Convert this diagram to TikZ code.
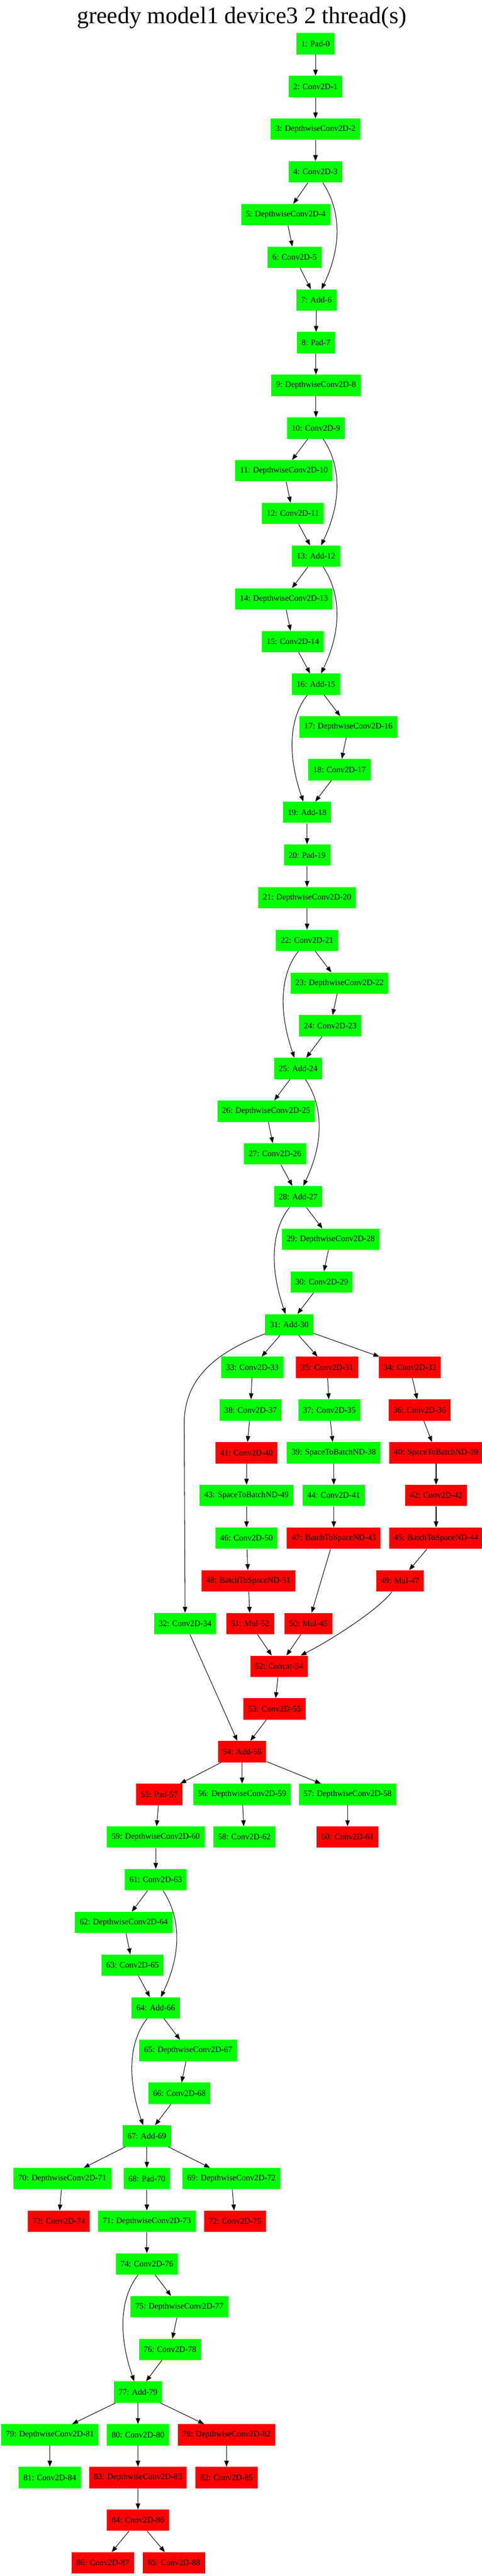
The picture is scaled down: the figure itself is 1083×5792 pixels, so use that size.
\documentclass[tikz,border=0pt]{standalone}
\usepackage{fontspec}
\setmainfont{Liberation Serif}
\usetikzlibrary{arrows.meta,calc}
\definecolor{gvgreen}{RGB}{0,255,0}
\definecolor{gvred}{RGB}{255,0,0}
\begin{document}
\begin{tikzpicture}[x=0.75pt, y=-0.75pt,
  op/.style={rectangle, minimum height=36pt, minimum width=54pt, inner xsep=8pt, inner ysep=0pt, font=\fontsize{14}{16}\selectfont, text=black},
  gn/.style={op, fill=gvgreen},
  rn/.style={op, fill=gvred},
  link/.style={draw=black, line width=0.9pt, -{Triangle[length=10pt,width=7.5pt]}}]
\useasboundingbox (0,0) rectangle (1083,5792);
\fill[white] (0,0) rectangle (1083,5792);
\node[font=\fontsize{40}{48}\selectfont, anchor=base] (title) at (543,53) {greedy model1 device3 2 thread(s)};
% nodes
\node[gn] (n1) at (709,98.5) {1: Pad-0};
\node[gn] (n2) at (709,194.5) {2: Conv2D-1};
\node[gn] (n3) at (709,290.5) {3: DepthwiseConv2D-2};
\node[gn] (n4) at (709,386.5) {4: Conv2D-3};
\node[gn] (n5) at (642,482.5) {5: DepthwiseConv2D-4};
\node[gn] (n6) at (662,578.5) {6: Conv2D-5};
\node[gn] (n7) at (711,674.5) {7: Add-6};
\node[gn] (n8) at (710,770.5) {8: Pad-7};
\node[gn] (n9) at (710,866.5) {9: DepthwiseConv2D-8};
\node[gn] (n10) at (710,962.5) {10: Conv2D-9};
\node[gn] (n11) at (638,1058.5) {11: DepthwiseConv2D-10};
\node[gn] (n12) at (658,1154.5) {12: Conv2D-11};
\node[gn] (n13) at (710,1250.5) {13: Add-12};
\node[gn] (n14) at (638,1346.5) {14: DepthwiseConv2D-13};
\node[gn] (n15) at (658,1442.5) {15: Conv2D-14};
\node[gn] (n16) at (710,1538.5) {16: Add-15};
\node[gn] (n17) at (783,1634.5) {17: DepthwiseConv2D-16};
\node[gn] (n18) at (763,1730.5) {18: Conv2D-17};
\node[gn] (n19) at (690,1826.5) {19: Add-18};
\node[gn] (n20) at (690,1922.5) {20: Pad-19};
\node[gn] (n21) at (690,2018.5) {21: DepthwiseConv2D-20};
\node[gn] (n22) at (690,2114.5) {22: Conv2D-21};
\node[gn] (n23) at (763,2210.5) {23: DepthwiseConv2D-22};
\node[gn] (n24) at (742,2306.5) {24: Conv2D-23};
\node[gn] (n25) at (670,2402.5) {25: Add-24};
\node[gn] (n26) at (598,2498.5) {26: DepthwiseConv2D-25};
\node[gn] (n27) at (618,2594.5) {27: Conv2D-26};
\node[gn] (n28) at (670,2690.5) {28: Add-27};
\node[gn] (n29) at (743,2786.5) {29: DepthwiseConv2D-28};
\node[gn] (n30) at (723,2882.5) {30: Conv2D-29};
\node[gn] (n31) at (650,2978.5) {31: Add-30};
\node[gn] (n33) at (567,3074.5) {33: Conv2D-33};
\node[rn] (n35) at (735,3074.5) {35: Conv2D-31};
\node[rn] (n34) at (921,3074.5) {34: Conv2D-32};
\node[gn] (n38) at (563,3170.5) {38: Conv2D-37};
\node[gn] (n37) at (740,3170.5) {37: Conv2D-35};
\node[rn] (n36) at (943,3170.5) {36: Conv2D-36};
\node[rn] (n41) at (554,3266.5) {41: Conv2D-40};
\node[gn] (n39) at (750,3266.5) {39: SpaceToBatchND-38};
\node[rn] (n40) at (980,3266.5) {40: SpaceToBatchND-39};
\node[gn] (n43) at (554,3362.5) {43: SpaceToBatchND-49};
\node[gn] (n44) at (750,3362.5) {44: Conv2D-41};
\node[rn] (n42) at (980,3362.5) {42: Conv2D-42};
\node[gn] (n46) at (554,3458.5) {46: Conv2D-50};
\node[rn] (n47) at (750,3458.5) {47: BatchToSpaceND-43};
\node[rn] (n45) at (980,3458.5) {45: BatchToSpaceND-44};
\node[rn] (n48) at (558,3554.5) {48: BatchToSpaceND-51};
\node[rn] (n49) at (899,3554.5) {49: Mul-47};
\node[gn] (n32) at (416,3650.5) {32: Conv2D-34};
\node[rn] (n51) at (562,3650.5) {51: Mul-52};
\node[rn] (n50) at (693,3650.5) {50: Mul-45};
\node[rn] (n52) at (627,3746.5) {52: Concat-54};
\node[rn] (n53) at (617,3842.5) {53: Conv2D-55};
\node[rn] (n54) at (544,3938.5) {54: Add-56};
\node[rn] (n55) at (358,4034.5) {55: Pad-57};
\node[gn] (n56) at (544,4034.5) {56: DepthwiseConv2D-59};
\node[gn] (n57) at (781,4034.5) {57: DepthwiseConv2D-58};
\node[gn] (n59) at (350,4130.5) {59: DepthwiseConv2D-60};
\node[gn] (n58) at (549,4130.5) {58: Conv2D-62};
\node[rn] (n60) at (781,4130.5) {60: Conv2D-61};
\node[gn] (n61) at (350,4226.5) {61: Conv2D-63};
\node[gn] (n62) at (278,4322.5) {62: DepthwiseConv2D-64};
\node[gn] (n63) at (298,4418.5) {63: Conv2D-65};
\node[gn] (n64) at (350,4514.5) {64: Add-66};
\node[gn] (n65) at (423,4610.5) {65: DepthwiseConv2D-67};
\node[gn] (n66) at (403,4706.5) {66: Conv2D-68};
\node[gn] (n67) at (330,4802.5) {67: Add-69};
\node[gn] (n70) at (140,4898.5) {70: DepthwiseConv2D-71};
\node[gn] (n68) at (330,4898.5) {68: Pad-70};
\node[gn] (n69) at (520,4898.5) {69: DepthwiseConv2D-72};
\node[rn] (n73) at (132,4994.5) {73: Conv2D-74};
\node[gn] (n71) at (330,4994.5) {71: DepthwiseConv2D-73};
\node[rn] (n72) at (528,4994.5) {72: Conv2D-75};
\node[gn] (n74) at (330,5090.5) {74: Conv2D-76};
\node[gn] (n75) at (403,5186.5) {75: DepthwiseConv2D-77};
\node[gn] (n76) at (382,5282.5) {76: Conv2D-78};
\node[gn] (n77) at (310,5378.5) {77: Add-79};
\node[gn] (n79) at (112,5474.5) {79: DepthwiseConv2D-81};
\node[gn] (n80) at (310,5474.5) {80: Conv2D-80};
\node[rn] (n78) at (509,5474.5) {78: DepthwiseConv2D-82};
\node[gn] (n81) at (112,5570.5) {81: Conv2D-84};
\node[rn] (n83) at (310,5570.5) {83: DepthwiseConv2D-83};
\node[rn] (n82) at (509,5570.5) {82: Conv2D-85};
\node[rn] (n84) at (310,5666.5) {84: Conv2D-86};
\node[rn] (n86) at (231,5762.5) {86: Conv2D-87};
\node[rn] (n85) at (391,5762.5) {85: Conv2D-88};
\coordinate (k32) at (414,3200);
% straight edges
\foreach \a/\b in {n1/n2,n2/n3,n3/n4,n4/n5,n5/n6,n6/n7,n7/n8,n8/n9,n9/n10,
  n10/n11,n11/n12,n12/n13,n13/n14,n14/n15,n15/n16,n16/n17,n17/n18,n18/n19,
  n19/n20,n20/n21,n21/n22,n22/n23,n23/n24,n24/n25,n25/n26,n26/n27,n27/n28,
  n28/n29,n29/n30,n30/n31,n31/n33,n31/n35,n31/n34,
  n33/n38,n38/n41,n41/n43,n43/n46,n46/n48,n48/n51,
  n35/n37,n37/n39,n39/n44,n44/n47,n47/n50,
  n34/n36,n36/n40,n40/n42,n42/n45,n45/n49,
  n51/n52,n50/n52,n52/n53,n32/n54,n53/n54,
  n54/n55,n54/n56,n54/n57,n55/n59,n56/n58,n57/n60,
  n59/n61,n61/n62,n62/n63,n63/n64,n64/n65,n65/n66,n66/n67,
  n67/n70,n67/n68,n67/n69,n70/n73,n68/n71,n69/n72,n71/n74,
  n74/n75,n75/n76,n76/n77,n77/n79,n77/n80,n77/n78,
  n79/n81,n80/n83,n78/n82,n83/n84,n84/n86,n84/n85}
  \draw[link] (\a) -- (\b);
% curved edges bulging right
\foreach \a/\b in {n4/n7,n10/n13,n13/n16,n25/n28,n61/n64}
  \draw[link] (\a) .. controls ($(\a)+(56,84)$) and ($(\b)+(59,-124)$) .. (\b);
% curved edges bulging left
\foreach \a/\b in {n16/n19,n22/n25,n28/n31,n64/n67,n74/n77}
  \draw[link] (\a) .. controls ($(\a)+(-60,75)$) and ($(\b)+(-45,-130)$) .. (\b);
% long edge 31 -> 32
\draw[link] (n31) .. controls (500,3035) and (414,3090) .. (k32) -- (n32);
% edge 49 -> 52
\draw[link] (n49) .. controls (850,3620) and (740,3690) .. (n52);
\end{tikzpicture}
\end{document}
